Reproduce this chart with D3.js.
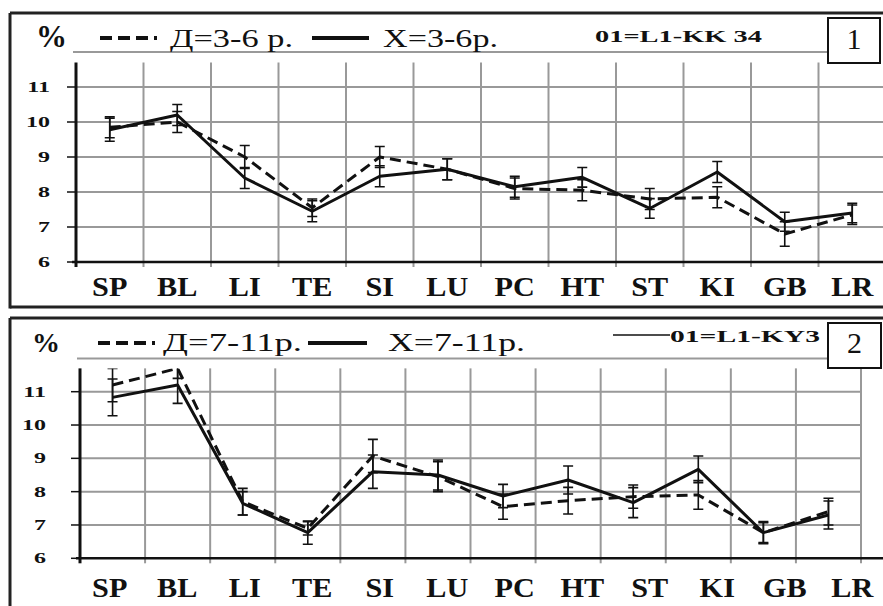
<!DOCTYPE html>
<html>
<head>
<meta charset="utf-8">
<script src="https://cdn.jsdelivr.net/npm/d3@7"></script>
<style>
  body { margin: 0; background: #fff; }
  svg { display: block; }
  svg text { font-family: "Liberation Serif", "Times New Roman", serif !important; }
</style>
</head>
<body>
<svg id="chart" width="883" height="606"></svg>
<script>
// organs on the x axis
const categories = ["SP", "BL", "LI", "TE", "SI", "LU", "PC", "HT", "ST", "KI", "GB", "LR"];
const yTicks = [6, 7, 8, 9, 10, 11];

// panel 1: 3-6 years
const girls36    = [9.85, 10.0, 9.0, 7.55, 9.0, 8.65, 8.1, 8.05, 7.8, 7.85, 6.8, 7.35];
const girls36Err = [0.3, 0.3, 0.33, 0.25, 0.3, 0.3, 0.3, 0.3, 0.3, 0.3, 0.35, 0.28];
const boys36     = [9.78, 10.2, 8.4, 7.45, 8.45, 8.65, 8.15, 8.42, 7.53, 8.57, 7.15, 7.4];
const boys36Err  = [0.33, 0.3, 0.3, 0.3, 0.3, 0.3, 0.3, 0.28, 0.28, 0.3, 0.27, 0.28];

// panel 2: 7-11 years
const girls711    = [11.2, 11.7, 7.7, 6.9, 9.07, 8.45, 7.55, 7.73, 7.85, 7.9, 6.77, 7.4];
const girls711Err = [0.5, 0.3, 0.4, 0.2, 0.5, 0.45, 0.38, 0.4, 0.35, 0.43, 0.3, 0.4];
const boys711     = [10.83, 11.2, 7.65, 6.77, 8.6, 8.5, 7.87, 8.35, 7.67, 8.67, 6.77, 7.3];
const boys711Err  = [0.55, 0.55, 0.35, 0.35, 0.5, 0.45, 0.35, 0.42, 0.45, 0.4, 0.33, 0.42];

const svg = d3.select("#chart");
const ink = "#111";

// x positions of the organ names (same in both panels)
const xLabels = d3.scaleBand().domain(categories).range([76, 886]);

const panels = [
  {
    num: "1", frameTop: 13, frameBottom: 307,
    xRange: [76, 886], gridRight: 883, yRange: [262, 87],
    yLabelX: 50, xLabelY: 296,
    girls: girls36, girlsErr: girls36Err, boys: boys36, boysErr: boys36Err,
    legend: {
      y: 38, pct: [36, 47, 31],
      dash: [100, 157], girlsText: ["Д=3-6 р.", 170, 123],
      solid: [312, 369], boysText: ["Х=3-6р.", 383, 115],
      base: 47, font: 26,
      code: ["01=L1-KK 34", 595, 167, 42], codeLine: null,
      box: [828, 18, 52, 45], boxBase: 49
    }
  },
  {
    num: "2", frameTop: 318, frameBottom: null,
    xRange: [80, 861], gridRight: 861, yRange: [558.3, 391.7],
    yLabelX: 46, xLabelY: 597,
    girls: girls711, girlsErr: girls711Err, boys: boys711, boysErr: boys711Err,
    legend: {
      y: 343, pct: [32, 352, 28],
      dash: [98, 155], girlsText: ["Д=7-11р.", 163, 139],
      solid: [308, 367], boysText: ["Х=7-11р.", 388, 137],
      base: 351, font: 25,
      code: ["01=L1-KY3", 670, 150, 342], codeLine: [613, 670, 335],
      box: [828, 323, 53, 45], boxBase: 353
    }
  }
];

panels.forEach((p, pi) => {
  const g = svg.append("g");
  const x = d3.scaleBand().domain(categories).range(p.xRange);
  const y = d3.scaleLinear().domain([6, 11]).range(p.yRange);
  const left = p.xRange[0];

  // frame
  g.append("line").attr("x1", 10).attr("x2", 883).attr("y1", p.frameTop).attr("y2", p.frameTop)
    .attr("stroke", "#222").attr("stroke-width", 3);
  g.append("line").attr("x1", 10).attr("x2", 10).attr("y1", p.frameTop)
    .attr("y2", p.frameBottom === null ? 606 : p.frameBottom + 1.5)
    .attr("stroke", "#222").attr("stroke-width", 3);
  if (p.frameBottom !== null) {
    g.append("line").attr("x1", 10).attr("x2", 883).attr("y1", p.frameBottom).attr("y2", p.frameBottom)
      .attr("stroke", "#222").attr("stroke-width", 3);
  }

  // grid
  const grid = g.append("g").attr("stroke", "#999").attr("stroke-width", 2);
  grid.selectAll("line.h").data(yTicks.slice(1)).join("line").attr("class", "h")
    .attr("x1", left).attr("x2", p.gridRight)
    .attr("y1", d => y(d)).attr("y2", d => y(d));
  grid.append("line").attr("x1", left - 3).attr("x2", p.legend.box[0])
    .attr("y1", y(12)).attr("y2", y(12));
  grid.selectAll("line.v").data(categories).join("line").attr("class", "v")
    .attr("x1", d => x(d) + x.bandwidth())
    .attr("x2", d => x(d) + x.bandwidth())
    .attr("y1", y(11.7)).attr("y2", y(6) + 5)
    .filter(d => x(d) + x.bandwidth() > 883).remove();

  // axes lines
  g.append("line").attr("x1", left).attr("x2", left).attr("y1", y(11.7)).attr("y2", y(6) + 5)
    .attr("stroke", ink).attr("stroke-width", 3);
  g.append("line").attr("x1", left - 4).attr("x2", 883).attr("y1", y(6)).attr("y2", y(6))
    .attr("stroke", ink).attr("stroke-width", 2.5);
  g.selectAll("line.tick").data(yTicks).join("line").attr("class", "tick")
    .attr("x1", left - 9).attr("x2", left).attr("y1", d => y(d)).attr("y2", d => y(d))
    .attr("stroke", ink).attr("stroke-width", 1.5);

  // y labels
  g.selectAll("text.ylab").data(yTicks).join("text").attr("class", "ylab")
    .attr("transform", d => `translate(${p.yLabelX},${y(d) + 5}) scale(1.6,1)`)
    .attr("text-anchor", "end").attr("font-weight", "bold").attr("font-size", 15)
    .attr("fill", ink).text(d => d);

  // x labels
  const xa = g.append("g").attr("transform", `translate(0,${p.xLabelY})`)
    .call(d3.axisBottom(xLabels).tickSize(0).tickPadding(0));
  xa.select(".domain").remove();
  xa.selectAll("text").attr("y", 0).attr("dy", 0)
    .attr("font-size", 27).attr("font-weight", "bold")
    .attr("fill", ink).attr("transform", "scale(1.12,1)");

  // series
  const clipId = "clip" + pi;
  g.append("clipPath").attr("id", clipId).append("rect")
    .attr("x", left).attr("y", y(11.7)).attr("width", 883 - left).attr("height", y(6) - y(11.7));
  const plot = g.append("g").attr("clip-path", `url(#${clipId})`);
  const cx = (d, i) => x(categories[i]) + x.bandwidth() / 2;
  const line = d3.line().x(cx).y(d => y(d));

  const series = [
    { vals: p.girls, err: p.girlsErr, dash: "11,6" },
    { vals: p.boys, err: p.boysErr, dash: null }
  ];
  series.forEach(s => {
    plot.append("path").attr("d", line(s.vals)).attr("fill", "none")
      .attr("stroke", ink).attr("stroke-width", 3)
      .attr("stroke-dasharray", s.dash).attr("stroke-linejoin", "round");
    const eb = plot.append("g").attr("stroke", ink).attr("stroke-width", 1.6);
    eb.selectAll("line.bar").data(s.vals).join("line").attr("class", "bar")
      .attr("x1", cx).attr("x2", cx)
      .attr("y1", (d, i) => y(d + s.err[i])).attr("y2", (d, i) => y(d - s.err[i]));
    [1, -1].forEach(sign => {
      eb.selectAll("line.cap" + sign).data(s.vals).join("line")
        .attr("class", "cap" + sign)
        .attr("x1", (d, i) => cx(d, i) - 5).attr("x2", (d, i) => cx(d, i) + 5)
        .attr("y1", (d, i) => y(d + sign * s.err[i]))
        .attr("y2", (d, i) => y(d + sign * s.err[i]));
    });
  });

  // legend
  const L = p.legend;
  g.append("text").attr("x", L.pct[0]).attr("y", L.pct[1]).attr("font-size", L.pct[2])
    .attr("font-weight", "bold").attr("fill", ink).text("%");
  g.append("line").attr("x1", L.dash[0]).attr("x2", L.dash[1]).attr("y1", L.y).attr("y2", L.y)
    .attr("stroke", ink).attr("stroke-width", 4).attr("stroke-dasharray", "12,6");
  g.append("text").attr("x", L.girlsText[1]).attr("y", L.base).attr("font-size", L.font)
    .attr("textLength", L.girlsText[2]).attr("lengthAdjust", "spacingAndGlyphs")
    .attr("fill", ink).text(L.girlsText[0]);
  g.append("line").attr("x1", L.solid[0]).attr("x2", L.solid[1]).attr("y1", L.y).attr("y2", L.y)
    .attr("stroke", ink).attr("stroke-width", 4);
  g.append("text").attr("x", L.boysText[1]).attr("y", L.base).attr("font-size", L.font)
    .attr("textLength", L.boysText[2]).attr("lengthAdjust", "spacingAndGlyphs")
    .attr("fill", ink).text(L.boysText[0]);
  if (L.codeLine) {
    g.append("line").attr("x1", L.codeLine[0]).attr("x2", L.codeLine[1])
      .attr("y1", L.codeLine[2]).attr("y2", L.codeLine[2])
      .attr("stroke", ink).attr("stroke-width", 1.5);
  }
  g.append("text").attr("x", L.code[1]).attr("y", L.code[3]).attr("font-size", 16)
    .attr("font-weight", "bold").attr("textLength", L.code[2]).attr("lengthAdjust", "spacingAndGlyphs")
    .attr("fill", ink).text(L.code[0]);
  g.append("rect").attr("x", L.box[0]).attr("y", L.box[1]).attr("width", L.box[2]).attr("height", L.box[3])
    .attr("fill", "#fff").attr("stroke", ink).attr("stroke-width", 2);
  g.append("text").attr("x", L.box[0] + L.box[2] / 2).attr("y", L.boxBase)
    .attr("text-anchor", "middle").attr("font-size", 30).attr("fill", ink).text(p.num);
});
</script>
</body>
</html>
